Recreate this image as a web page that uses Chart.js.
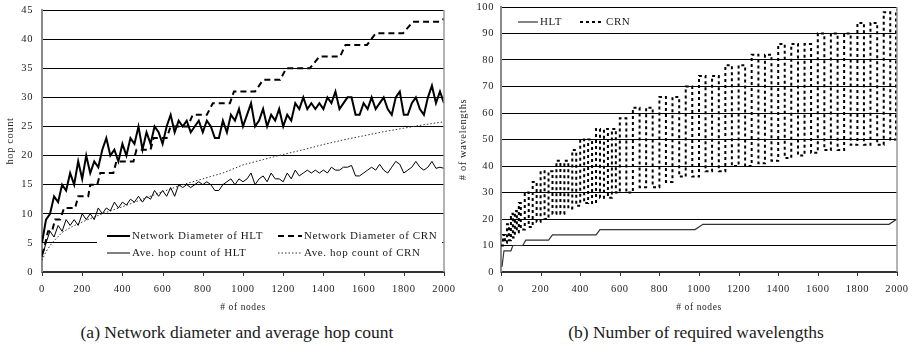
<!DOCTYPE html>
<html>
<head>
<meta charset="utf-8">
<script src="https://cdn.jsdelivr.net/npm/chart.js@4.4.0/dist/chart.umd.min.js"></script>
<style>
  body { margin: 0; background: #fff; width: 913px; height: 356px; position: relative; overflow: hidden; font-family: "Liberation Serif", "Times New Roman", serif; }
  .box { position: absolute; top: 0; height: 315px; }
  #boxA { left: 0; width: 456px; }
  #boxB { left: 456px; width: 457px; }
  .cap { position: absolute; top: 322px; font-size: 17.5px; color: #1a1a1a; white-space: nowrap; transform: translateX(-50%); }
</style>
</head>
<body>
<div class="box" id="boxA"><canvas id="chartA"></canvas></div>
<div class="box" id="boxB"><canvas id="chartB"></canvas></div>
<div class="cap" style="left:237px">(a) Network diameter and average hop count</div>
<div class="cap" style="left:696px">(b) Number of required wavelengths</div>
<script>
// ---- (a) hop count data ----
const nodes = [
  0, 20, 40, 60, 80, 100, 120, 140, 160, 180,
  200, 220, 240, 260, 280, 300, 320, 340, 360, 380,
  400, 420, 440, 460, 480, 500, 520, 540, 560, 580,
  600, 620, 640, 660, 680, 700, 720, 740, 760, 780,
  800, 820, 840, 860, 880, 900, 920, 940, 960, 980,
  1000, 1020, 1040, 1060, 1080, 1100, 1120, 1140, 1160, 1180,
  1200, 1220, 1240, 1260, 1280, 1300, 1320, 1340, 1360, 1380,
  1400, 1420, 1440, 1460, 1480, 1500, 1520, 1540, 1560, 1580,
  1600, 1620, 1640, 1660, 1680, 1700, 1720, 1740, 1760, 1780,
  1800, 1820, 1840, 1860, 1880, 1900, 1920, 1940, 1960, 1980,
  2000
];
const hltDiameter = [
  5, 9, 10, 13, 12, 15, 14, 17, 15, 19,
  16, 20, 17, 19, 18, 21, 23, 20, 21, 19,
  22, 20, 23, 22, 25, 21, 24, 22, 25, 24,
  22, 25, 27, 24, 26, 25, 26, 24, 25, 26,
  24, 26, 25, 23, 23, 26, 24, 27, 26, 28,
  25, 27, 29, 25, 26, 28, 25, 27, 26, 28,
  25, 27, 26, 29, 28, 30, 28, 29, 28, 29,
  28, 30, 29, 31, 28, 29, 30, 30, 27, 27,
  29, 28, 30, 28, 29, 30, 28, 27, 30, 31,
  27, 27, 29, 30, 28, 27, 30, 32, 29, 31,
  29
];
const hltAvgHop = [
  2.5, 5, 7, 6, 8, 7, 9, 8, 9, 8,
  10, 9, 10, 9, 11, 10, 11, 10.5, 12, 11,
  12, 11.5, 12.5, 12, 13, 12, 13, 12.5, 14, 13,
  14, 13, 14.5, 13, 15, 14.5, 15, 14.5, 15, 15.5,
  15, 15.5, 15, 14, 14, 15, 15.5, 16, 15, 16,
  15.5, 16, 17, 15, 16, 16.5, 15.5, 17, 16, 16,
  15.5, 17, 16, 17.5, 16.5, 17, 17.5, 17, 17.5, 17,
  17.5, 17, 18, 17.5, 17.5, 18, 18, 18.3, 16.5, 16.5,
  17, 17.5, 18, 17.5, 18.5, 17.5, 17, 18, 19, 18.5,
  17, 17.5, 18, 19, 18, 17.5, 18, 19, 17.8, 18,
  17.8
];
const crnDiameterNodes = [0, 10, 30, 50, 65, 90, 110, 165, 180, 230, 240, 275, 290, 355, 370, 455, 470, 540, 555, 620,
  640, 725, 750, 820, 850, 935, 955, 1060, 1100, 1185, 1215, 1333, 1380, 1483, 1510, 1617, 1660, 1796, 1846, 1980, 2000];
const crnDiameter = [3, 4, 7, 7, 9, 9, 11, 11, 13, 13, 15, 15, 17, 17, 19, 19, 21, 21, 23, 23,
  25, 25, 27, 27, 29, 29, 31, 31, 33, 33, 35, 35, 37, 37, 39, 39, 41, 41, 43, 43, 43.5];
const crnAvgNodes = [0, 20, 50, 100, 150, 200, 300, 400, 500, 600, 700, 800, 900, 1000, 1100, 1200, 1300, 1400, 1500, 1600, 1700, 1800, 1900, 2000];
const crnAvgHop = [2, 3.5, 5, 6.8, 7.8, 8.6, 10, 11.2, 12.5, 13.8, 15, 16, 17, 18.4, 19.3, 20.2, 21, 21.9, 22.7, 23.4, 24.1, 24.7, 25.3, 25.8];

// ---- (b) wavelength data ----
const hltWaveNodes = [5, 15, 50, 60, 110, 125, 240, 260, 480, 500, 980, 1020, 1960, 2000];
const hltWave = [2, 8, 8, 10, 10, 12, 12, 14, 14, 16, 16, 18, 18, 20];
// CRN swings between a low and a high count from one sample to the next
const crnWaveNodes = [
  0, 10, 20, 30, 40, 50, 60, 70, 80, 90, 100, 120, 140, 160, 180, 200, 220, 240, 260, 280,
  300, 320, 340, 360, 380, 400, 420, 440, 460, 480, 500, 520, 540, 560, 580, 600, 633, 666, 700, 733,
  766, 800, 833, 866, 900, 933, 966, 1000, 1033, 1066, 1100, 1133, 1166, 1200, 1233, 1266, 1300, 1333, 1366, 1400,
  1433, 1466, 1500, 1533, 1566, 1600, 1633, 1666, 1700, 1733, 1766, 1800, 1833, 1866, 1900, 1933, 1966, 1995, 2000
];
const crnWave = [
  10, 14, 11, 18, 12, 22, 13, 23, 15, 26, 16, 30, 17, 34, 19, 38, 20, 38, 22, 42,
  22, 42, 24, 46, 25, 50, 26, 50, 26, 54, 28, 54, 28, 54, 30, 58, 30, 62, 32, 62,
  32, 66, 34, 66, 36, 70, 36, 74, 38, 74, 38, 78, 40, 78, 40, 82, 41, 82, 42, 86,
  43, 86, 44, 86, 45, 90, 46, 90, 46, 90, 48, 94, 48, 94, 48, 98, 50, 99, 99
];

const serif = '"Liberation Serif", "Times New Roman", serif';
const pts = (xs, ys) => xs.map((x, i) => ({ x, y: ys[i] }));

const spacing = {
  id: 'spacing',
  beforeDraw(c) { c.ctx.letterSpacing = '0.6px'; },
  afterDraw(c) { c.ctx.letterSpacing = '0px'; }
};

// grey right edge of the plot and the short tick marks under the x axis
const frame = {
  id: 'frame',
  afterDraw(c) {
    const { ctx, chartArea: a } = c;
    const sx = c.scales.x;
    ctx.save();
    ctx.strokeStyle = '#9a9a9a';
    ctx.lineWidth = 1.5;
    ctx.beginPath();
    ctx.moveTo(a.right, a.top);
    ctx.lineTo(a.right, a.bottom);
    ctx.stroke();
    ctx.strokeStyle = '#333';
    ctx.lineWidth = 1;
    ctx.beginPath();
    sx.ticks.forEach(t => {
      const px = Math.round(sx.getPixelForValue(t.value)) + 0.5;
      ctx.moveTo(px, a.bottom);
      ctx.lineTo(px, a.bottom + 4);
    });
    ctx.stroke();
    ctx.restore();
  }
};

function drawLegend(chart, items, box) {
  const ctx = chart.ctx;
  ctx.save();
  if (box) {
    ctx.fillStyle = '#fff';
    ctx.fillRect(box[0], box[1], box[2], box[3]);
  }
  ctx.font = '11px ' + serif;
  ctx.textBaseline = 'middle';
  ctx.fillStyle = '#1a1a1a';
  items.forEach(([i, x, y, len]) => {
    const ds = chart.data.datasets[i];
    ctx.strokeStyle = ds.borderColor;
    ctx.lineWidth = ds.borderWidth;
    ctx.setLineDash(ds.borderDash || []);
    ctx.beginPath();
    ctx.moveTo(x, y);
    ctx.lineTo(x + len, y);
    ctx.stroke();
    ctx.setLineDash([]);
    ctx.fillText(ds.label, x + len + 2, y);
  });
  ctx.restore();
}

function scales(yMax, yStep, yTitle, yWidth, yTitlePad, yTickGap) {
  return {
    x: {
      type: 'linear', min: 0, max: 2000,
      afterFit(s) { s.height = 43; },
      ticks: { stepSize: 200, padding: 1, color: '#222', font: { family: serif, size: 10.5 }, maxRotation: 0, callback: v => String(v) },
      grid: { drawOnChartArea: false, drawTicks: true, tickLength: 10, tickColor: 'rgba(0,0,0,0)' },
      border: { color: '#333', width: 2 },
      title: { display: true, text: '# of nodes', color: '#222', font: { family: serif, size: 9.5 }, padding: { top: 0, bottom: 2 } }
    },
    y: {
      min: 0, max: yMax,
      afterFit(s) { s.width = yWidth; },
      ticks: { stepSize: yStep, padding: 0, color: '#222', font: { family: serif, size: 10.5 }, callback: v => String(v) },
      grid: { color: '#000', lineWidth: 1, drawTicks: true, tickLength: yTickGap, tickColor: 'rgba(0,0,0,0)' },
      border: { color: '#8a8a8a', width: 2 },
      title: { display: true, text: yTitle, color: '#222', font: { family: serif, size: 10.5 }, padding: { top: yTitlePad, bottom: 0 } }
    }
  };
}

// nudge the layout padding so the plot area lands where the figure has it
function placeArea(chart, top, right) {
  for (let k = 0; k < 2; k++) {
    const a = chart.chartArea;
    const p = chart.options.layout.padding;
    chart.options.layout.padding = {
      top: p.top + (top - a.top),
      right: p.right + (a.right - right),
      left: 0,
      bottom: 0
    };
    chart.update();
  }
}

const common = {
  responsive: true,
  maintainAspectRatio: false,
  animation: false,
  events: [],
  elements: { point: { radius: 0 }, line: { tension: 0, fill: false } },
  plugins: { legend: { display: false }, tooltip: { enabled: false } }
};

const chartA = new Chart(document.getElementById('chartA'), {
  type: 'line',
  data: {
    datasets: [
      { label: 'Network Diameter of HLT', data: pts(nodes, hltDiameter), borderColor: '#000', borderWidth: 2 },
      { label: 'Network Diameter of CRN', data: pts(crnDiameterNodes, crnDiameter), borderColor: '#000', borderWidth: 2, borderDash: [6, 4] },
      { label: 'Ave. hop count of HLT', data: pts(nodes, hltAvgHop), borderColor: '#000', borderWidth: 1 },
      { label: 'Ave. hop count of CRN', data: pts(crnAvgNodes, crnAvgHop), borderColor: '#333', borderWidth: 1, borderDash: [1.5, 2] }
    ]
  },
  options: Object.assign({}, common, {
    layout: { autoPadding: false, padding: { top: 10, right: 12, left: 0, bottom: 0 } },
    scales: scales(45, 5, 'hop count', 42, 4, 9)
  }),
  plugins: [spacing, frame, {
    id: 'legendA',
    afterDatasetsDraw(c) {
      drawLegend(c, [[0, 107, 236, 23], [1, 278, 236, 24], [2, 107, 253, 23], [3, 278, 253, 24]], [97, 221, 345, 41]);
    }
  }]
});
placeArea(chartA, 10, 444);

const chartB = new Chart(document.getElementById('chartB'), {
  type: 'line',
  data: {
    datasets: [
      { label: 'HLT', data: pts(hltWaveNodes, hltWave), borderColor: '#333', borderWidth: 1.2 },
      { label: 'CRN', data: pts(crnWaveNodes, crnWave), borderColor: '#000', borderWidth: 2, borderDash: [3, 3], stepped: 'before' }
    ]
  },
  options: Object.assign({}, common, {
    layout: { autoPadding: false, padding: { top: 7, right: 16, left: 0, bottom: 0 } },
    scales: scales(100, 10, '# of wavelengths', 45, 1, 7)
  }),
  plugins: [spacing, frame, {
    id: 'legendB',
    afterDatasetsDraw(c) {
      drawLegend(c, [[0, 62, 22, 20], [1, 124, 22, 24]], null);
    }
  }]
});
placeArea(chartB, 7, 441);
</script>
</body>
</html>
